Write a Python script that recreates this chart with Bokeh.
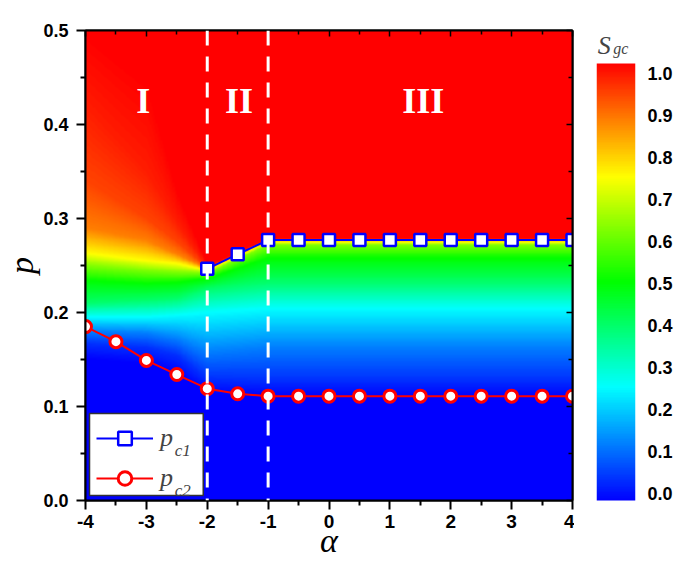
import numpy as np
from bokeh.plotting import figure
from bokeh.models import (LinearColorMapper, FixedTicker, LinearAxis, Span, Label,
                          Legend, LegendItem, Range1d, PrintfTickFormatter,
                          CustomJSTickFormatter, BoxAnnotation)
from bokeh.layouts import row
from bokeh.embed import file_html
from bokeh.resources import INLINE

# ---------------- data ----------------
alpha_c1 = [-2.0, -1.5, -1.0, -0.5, 0.0, 0.5, 1.0, 1.5, 2.0, 2.5, 3.0, 3.5, 4.0]
p_c1 = [0.2465, 0.262, 0.277, 0.277, 0.277, 0.277, 0.277, 0.277, 0.277, 0.277, 0.277, 0.277, 0.277]

alpha_c2 = [-4.0, -3.5, -3.0, -2.5, -2.0, -1.5, -1.0, -0.5, 0.0, 0.5, 1.0, 1.5, 2.0, 2.5, 3.0, 3.5, 4.0]
p_c2 = [0.185, 0.169, 0.149, 0.134, 0.119, 0.1135, 0.111, 0.111, 0.111, 0.111, 0.111,
        0.111, 0.111, 0.111, 0.111, 0.111, 0.111]

# S_gc field: p position of each S_gc contour level, read at several alpha columns
s_levels = [0.0, 0.05, 0.13, 0.26, 0.40, 0.50, 0.62, 0.74, 0.87, 0.93, 0.97, 1.0]
alpha_cols = [-4.0, -3.0, -2.5, -2.0, -1.0, 4.0]
lev_m4 = [0.150, 0.167, 0.180, 0.195, 0.210, 0.234, 0.250, 0.263, 0.290, 0.340, 0.420, 0.500]
lev_m3 = [0.145, 0.163, 0.178, 0.195, 0.213, 0.231, 0.245, 0.255, 0.277, 0.300, 0.350, 0.450]
lev_m25 = [0.135, 0.155, 0.172, 0.197, 0.215, 0.232, 0.243, 0.252, 0.262, 0.275, 0.295, 0.330]
lev_m2 = [0.112, 0.130, 0.158, 0.200, 0.225, 0.236, 0.242, 0.245, 0.2465, 0.247, 0.248, 0.250]
lev_m1 = [0.110, 0.128, 0.163, 0.204, 0.232, 0.258, 0.272, 0.275, 0.277, 0.2775, 0.278, 0.279]
lev_p4 = [0.110, 0.128, 0.163, 0.204, 0.232, 0.258, 0.272, 0.275, 0.277, 0.2775, 0.278, 0.279]

x_ticks = [-4, -3, -2, -1, 0, 1, 2, 3, 4]
y_ticks = [0.0, 0.1, 0.2, 0.3, 0.4, 0.5]
cb_ticks = [0.0, 0.1, 0.2, 0.3, 0.4, 0.5, 0.6, 0.7, 0.8, 0.9, 1.0]
region_names = ["I", "II", "III"]
region_alpha = [-3.05, -1.48, 1.55]
region_p = [0.4255, 0.4255, 0.4255]
boundaries = [-2.0, -1.0]

# colour scale (jet-like, as in the colour bar)
cmap_pos = [0.0, 0.26, 0.50, 0.74, 1.0]
cmap_r = [0, 0, 0, 255, 255]
cmap_g = [0, 255, 255, 255, 0]
cmap_b = [255, 255, 0, 0, 0]

# ---------------- build palette & field ----------------
t = np.linspace(0, 1, 256)
palette = ["#%02x%02x%02x" % (int(round(np.interp(v, cmap_pos, cmap_r))),
                              int(round(np.interp(v, cmap_pos, cmap_g))),
                              int(round(np.interp(v, cmap_pos, cmap_b)))) for v in t]
mapper = LinearColorMapper(palette=palette, low=0.0, high=1.0)

levels = np.array([lev_m4, lev_m3, lev_m25, lev_m2, lev_m1, lev_p4])  # (ncols, nlev)
nx, ny = 401, 1001
ax = np.linspace(-4, 4, nx)
py = np.linspace(0, 0.5, ny)
field = np.zeros((ny, nx))
for i, a in enumerate(ax):
    lp = np.array([np.interp(a, alpha_cols, levels[:, k]) for k in range(len(s_levels))])
    field[:, i] = np.interp(py, lp, s_levels, left=0.0, right=1.0)

FONT_B = "Liberation Sans"
SERIF = "Liberation Serif"
blank = CustomJSTickFormatter(code="return ''")

# ---------------- main figure ----------------
p = figure(width=574, height=566, x_range=Range1d(-4, 4), y_range=Range1d(0, 0.5),
           output_backend="svg", toolbar_location=None,
           min_border_left=83, min_border_top=30, min_border_right=2, min_border_bottom=66)
p.grid.visible = False
p.outline_line_color = "black"
p.outline_line_width = 2

p.image(image=[field], x=-4, y=0, dw=8, dh=0.5, color_mapper=mapper)

x_minor = [v + 0.5 for v in x_ticks[:-1]]
y_minor = [v + 0.05 for v in y_ticks[:-1]]

for axis, tk, mn, fmt in ((p.xaxis[0], x_ticks, x_minor, "%d"), (p.yaxis[0], y_ticks, y_minor, "%.1f")):
    axis.ticker = FixedTicker(ticks=tk, minor_ticks=mn)
    axis.formatter = PrintfTickFormatter(format=fmt)
    axis.axis_line_width = 2
    axis.major_tick_line_width = 2
    axis.minor_tick_line_width = 2
    axis.major_tick_out = 9
    axis.major_tick_in = 0
    axis.minor_tick_out = 5
    axis.minor_tick_in = 0
    axis.major_label_text_font = FONT_B
    axis.major_label_text_font_style = "bold"
    axis.major_label_text_color = "black"
    axis.axis_label_text_font = SERIF
    axis.axis_label_text_font_style = "italic"
    axis.axis_label_text_color = "black"
p.xaxis[0].major_label_text_font_size = "19px"
p.yaxis[0].major_label_text_font_size = "18px"
p.xaxis[0].major_label_standoff = 5
p.yaxis[0].major_label_standoff = 8
p.xaxis[0].axis_label = "α"
p.xaxis[0].axis_label_text_font_size = "34px"
p.xaxis[0].axis_label_standoff = -9
p.yaxis[0].axis_label = "p"
p.yaxis[0].axis_label_text_font_size = "34px"
p.yaxis[0].axis_label_standoff = 0

for loc, tk, mn in (("above", x_ticks, x_minor), ("right", y_ticks, y_minor)):
    ax2 = LinearAxis(ticker=FixedTicker(ticks=tk, minor_ticks=mn), formatter=blank,
                     major_label_standoff=0,
                     major_tick_in=6, major_tick_out=0, minor_tick_in=4, minor_tick_out=0,
                     axis_line_width=2, major_tick_line_width=1.5, minor_tick_line_width=1.5)
    p.add_layout(ax2, loc)

# critical lines
l1 = p.line(alpha_c1, p_c1, line_color="#0000ff", line_width=2)
s1 = p.scatter(alpha_c1, p_c1, marker="square", size=12, fill_color="white",
               line_color="#0000ff", line_width=2.5)
l2 = p.line(alpha_c2, p_c2, line_color="#ff0000", line_width=2)
s2 = p.scatter(alpha_c2, p_c2, marker="circle", size=12, fill_color="white",
               line_color="#ff0000", line_width=3)

for b in boundaries:
    p.add_layout(Span(location=b, dimension="height", line_color="white",
                      line_width=3, line_dash="15 11"))

for name, a, pp in zip(region_names, region_alpha, region_p):
    p.add_layout(Label(x=a, y=pp, text=name, text_color="white", text_font=SERIF,
                       text_font_style="bold", text_font_size="36px",
                       text_align="center", text_baseline="middle"))

# legend: white box, subscripts, then a transparent legend on top
p.add_layout(BoxAnnotation(left=-3.934, right=-2.066, bottom=0.0053, top=0.0926,
                           fill_color="white", fill_alpha=1.0,
                           line_color="#333333", line_width=1.5, line_alpha=1.0))
for sub, yy in (("c1", 0.0533), ("c2", 0.0107)):
    p.add_layout(Label(x=-2.535, y=yy, text=sub, text_font=SERIF,
                       text_font_style="italic", text_font_size="17px",
                       text_align="left", text_baseline="alphabetic"))
legend = Legend(items=[LegendItem(label="p", renderers=[l1, s1]),
                       LegendItem(label="p", renderers=[l2, s2])],
                location=(11, 5), padding=6, spacing=6, margin=0,
                glyph_width=57, glyph_height=34, label_standoff=7, label_width=32,
                label_text_font=SERIF, label_text_font_style="italic",
                label_text_font_size="26px",
                border_line_color=None, background_fill_alpha=0.0)
p.add_layout(legend)

# ---------------- colour bar ----------------
cb_lo, cb_hi = -0.01667, 1.1024       # visible axis range (frame aligned with main plot)
bar_lo, bar_hi = -0.019, 1.0238       # extent of the colour strip
cb = figure(width=101, height=566, x_range=Range1d(0, 1), y_range=Range1d(cb_lo, cb_hi),
            output_backend="svg", toolbar_location=None, x_axis_location=None,
            y_axis_location="right", min_border_left=22, min_border_right=35,
            min_border_top=30, min_border_bottom=66)
cb.grid.visible = False
cb.outline_line_color = None
grad = np.linspace(0, 1, 512).reshape(512, 1)
cb.image(image=[grad], x=0, y=bar_lo, dw=1, dh=bar_hi - bar_lo, color_mapper=mapper)
ya = cb.yaxis[0]
ya.ticker = FixedTicker(ticks=cb_ticks, minor_ticks=[])
ya.formatter = PrintfTickFormatter(format="%.1f")
ya.axis_line_color = None
ya.major_tick_line_color = None
ya.minor_tick_line_color = None
ya.major_label_standoff = 6
ya.major_label_text_font = FONT_B
ya.major_label_text_font_style = "bold"
ya.major_label_text_font_size = "18px"
ya.major_label_text_color = "black"

cb.add_layout(Label(x=0.03, y=1.066, text="S", text_font=SERIF,
                    text_font_style="italic", text_font_size="26px",
                    text_align="left", text_baseline="alphabetic"))
cb.add_layout(Label(x=0.43, y=1.060, text="gc", text_font=SERIF,
                    text_font_style="italic", text_font_size="16px",
                    text_align="left", text_baseline="alphabetic"))

layout = row(p, cb)
open("out.html", "w").write(file_html(layout, INLINE))
